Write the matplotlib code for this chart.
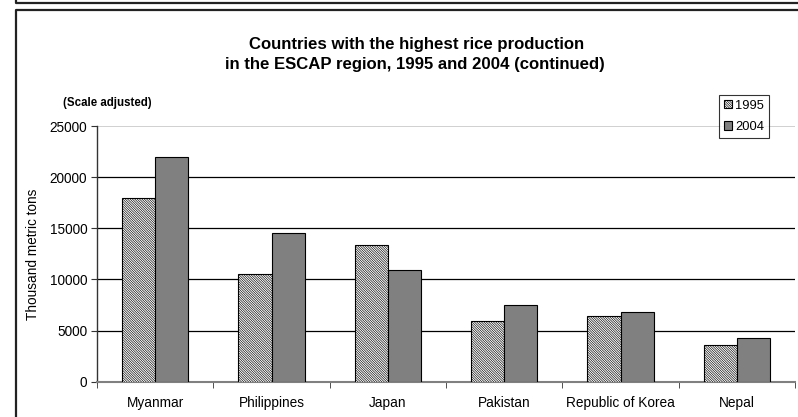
import matplotlib
matplotlib.use("Agg")
import matplotlib.pyplot as plt
from matplotlib.lines import Line2D
import numpy as np

categories = ["Myanmar", "Philippines", "Japan", "Pakistan", "Republic of Korea", "Nepal"]
values_1995 = [18000, 10500, 13400, 5900, 6400, 3550]
values_2004 = [22000, 14500, 10900, 7500, 6800, 4250]
series_labels = ["1995", "2004"]
yticks = [0, 5000, 10000, 15000, 20000, 25000]

plt.rcParams['font.family'] = ['Liberation Sans', 'DejaVu Sans']
plt.rcParams['hatch.linewidth'] = 0.45
plt.rcParams['hatch.color'] = '#555555'

W, H = 798, 417
fig = plt.figure(figsize=(W/100, H/100), dpi=100)

def fx(x): return x / W
def fy(y): return 1 - y / H

# Frames
fig.add_artist(Line2D([fx(15.5), fx(15.5), fx(800)], [fy(-2), fy(3), fy(3)], color='#222222', lw=1.6))
fig.add_artist(Line2D([fx(15.5), fx(15.5), fx(800)], [fy(420), fy(10), fy(10)], color='#222222', lw=1.6))

ax = fig.add_axes([fx(97), fy(381.7), fx(795) - fx(97), fy(126) - fy(381.7)])

x = np.arange(len(categories))
bw = 0.2865
b1 = ax.bar(x - bw/2, values_1995, bw, facecolor='white', edgecolor='black', hatch='\\' * 14, linewidth=0.8, label=series_labels[0], zorder=3)
b2 = ax.bar(x + bw/2, values_2004, bw, facecolor='#808080', edgecolor='black', linewidth=0.8, label=series_labels[1], zorder=3)

ax.set_xlim(-0.5, len(categories) - 0.5)
ax.set_ylim(0, 25000)
ax.set_yticks(yticks)
ax.set_yticklabels([str(v) for v in yticks], fontsize=9.8)
for v in yticks[1:-1]:
    ax.axhline(v, color='black', lw=0.9, zorder=1)
ax.axhline(25000, color='#c8c8c8', lw=1.2, zorder=1)

ax.set_xticks(x)
ax.set_xticklabels(categories, fontsize=9.8)
ax.tick_params(axis='x', length=0, pad=10)
ax.set_xticks(np.arange(-0.5, len(categories)), minor=True)
ax.tick_params(axis='x', which='minor', length=4, color='#333333', direction='out')
ax.tick_params(axis='y', length=4, color='#333333', direction='out', pad=3)

for s in ['top', 'right']:
    ax.spines[s].set_visible(False)
ax.spines['left'].set_color('#333333')
ax.spines['bottom'].set_color('#808080')
ax.spines['left'].set_linewidth(1.0)
ax.spines['bottom'].set_linewidth(1.5)
ax.set_facecolor('none')

ax.set_ylabel("Thousand metric tons", fontsize=9.8, labelpad=7)

fig.text(fx(417), fy(45), "Countries with the highest rice production", ha='center', va='center', fontsize=12.1, fontweight='bold')
fig.text(fx(415), fy(64), "in the ESCAP region, 1995 and 2004 (continued)", ha='center', va='center', fontsize=12.1, fontweight='bold')
fig.text(fx(63), fy(103), "(Scale adjusted)", ha='left', va='center', fontsize=8.3, fontweight='bold')

leg = fig.legend(handles=[b1, b2], labels=series_labels, loc='upper right',
                 bbox_to_anchor=(fx(769), fy(95)), fontsize=9.3, frameon=True,
                 fancybox=False, edgecolor='black', handlelength=0.65, handleheight=0.65,
                 handletextpad=0.25, borderpad=0.35, labelspacing=0.75, borderaxespad=0)
leg.get_frame().set_linewidth(0.8)

fig.savefig("out.png", dpi=100)
